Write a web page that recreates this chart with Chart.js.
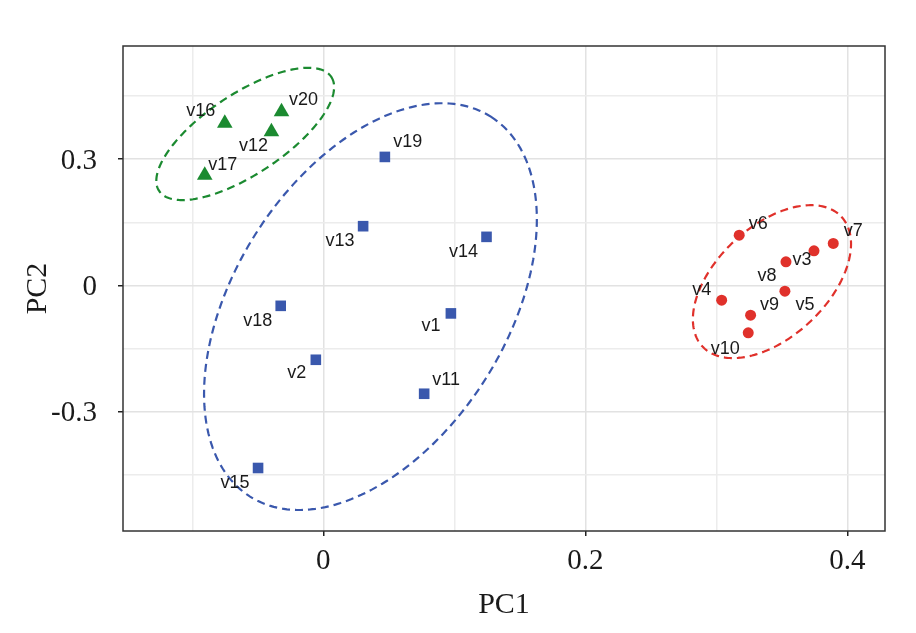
<!DOCTYPE html>
<html>
<head>
<meta charset="utf-8">
<script src="https://cdn.jsdelivr.net/npm/chart.js@4.4.1/dist/chart.umd.min.js"></script>
<style>
  html, body { margin: 0; padding: 0; background: #fff; }
</style>
</head>
<body>
<canvas id="pcaChart" width="916" height="633"></canvas>
<script>
// group 1 (green triangles)
const greenNames = ["v16", "v20", "v12", "v17"];
const greenPC1 = [-0.0752, -0.0319, -0.0396, -0.0905];
const greenPC2 = [0.3854, 0.4125, 0.3650, 0.2620];

// group 2 (blue squares)
const blueNames = ["v19", "v13", "v14", "v18", "v1", "v2", "v11", "v15"];
const bluePC1 = [0.0470, 0.0304, 0.1246, -0.0325, 0.0974, -0.0057, 0.0770, -0.0498];
const bluePC2 = [0.3053, 0.1408, 0.1155, -0.0483, -0.0663, -0.1764, -0.2571, -0.4334];

// group 3 (red circles)
const redNames = ["v6", "v7", "v3", "v8", "v5", "v4", "v9", "v10"];
const redPC1 = [0.3175, 0.3893, 0.3746, 0.3532, 0.3524, 0.3041, 0.3262, 0.3244];
const redPC2 = [0.1195, 0.0998, 0.0822, 0.0561, -0.0134, -0.0348, -0.0704, -0.1124];

// confidence ellipses: centre, first axis, second axis (data units)
const greenEllipse = [-0.0596, 0.3599, 0.0657, 0.1355, 0.0170, -0.0795];
const blueEllipse = [0.0360, -0.0502, 0.0919, 0.4511, 0.0877, -0.1725];
const redEllipse = [0.3425, 0.0091, 0.0530, 0.1542, 0.0289, -0.0959];

// ticks
const xTicks = [-0.1, 0, 0.1, 0.2, 0.3, 0.4];
const xLabelled = [0, 0.2, 0.4];
const yTicks = [-0.45, -0.3, -0.15, 0, 0.15, 0.3, 0.45];
const yLabelled = [-0.3, 0, 0.3];

const GREEN = "#1b8a30";
const BLUE = "#3a58ad";
const RED = "#e0312b";

// where each text label sits relative to its point (px)
const labelShift = {
  v16: [-24, -12], v20: [22, -12], v12: [-18, 14], v17: [18, -10],
  v19: [23, -15], v13: [-23, 15], v14: [-23, 15], v18: [-23, 15],
  v1: [-20, 13], v2: [-19, 13], v11: [22, -14], v15: [-23, 15],
  v6: [19, -11], v7: [20, -12], v3: [-12, 9], v8: [-19, 14],
  v5: [20, 14], v4: [-20, -10], v9: [19, -10], v10: [-23, 16]
};

const toPoints = (pc1, pc2) => pc1.map((x, i) => ({ x, y: pc2[i] }));
const isIn = (list, v) => list.some((l) => Math.abs(l - v) < 1e-9);

const ellipsePlugin = {
  id: "ellipses",
  afterDatasetsDraw(chart) {
    const { ctx, chartArea, scales } = chart;
    const sets = [
      [greenEllipse, GREEN],
      [blueEllipse, BLUE],
      [redEllipse, RED]
    ];
    ctx.save();
    ctx.beginPath();
    ctx.rect(chartArea.left, chartArea.top, chartArea.right - chartArea.left, chartArea.bottom - chartArea.top);
    ctx.clip();
    ctx.lineWidth = 2.2;
    ctx.setLineDash([8, 5]);
    sets.forEach(([e, color]) => {
      ctx.strokeStyle = color;
      ctx.beginPath();
      for (let k = 0; k <= 200; k++) {
        const t = (k / 200) * Math.PI * 2;
        const px = scales.x.getPixelForValue(e[0] + e[2] * Math.cos(t) + e[4] * Math.sin(t));
        const py = scales.y.getPixelForValue(e[1] + e[3] * Math.cos(t) + e[5] * Math.sin(t));
        if (k === 0) ctx.moveTo(px, py);
        else ctx.lineTo(px, py);
      }
      ctx.closePath();
      ctx.stroke();
    });
    ctx.restore();
  }
};

const labelPlugin = {
  id: "pointNames",
  afterDatasetsDraw(chart) {
    const { ctx } = chart;
    ctx.save();
    ctx.font = "18px 'Liberation Sans', Arial, sans-serif";
    ctx.fillStyle = "#1a1a1a";
    ctx.textAlign = "center";
    ctx.textBaseline = "middle";
    chart.data.datasets.forEach((ds, di) => {
      const meta = chart.getDatasetMeta(di);
      meta.data.forEach((pt, i) => {
        const name = ds.names[i];
        const [dx, dy] = labelShift[name] || [0, 0];
        ctx.fillText(name, pt.x + dx, pt.y + dy);
      });
    });
    ctx.restore();
  }
};

const framePlugin = {
  id: "frame",
  afterDraw(chart) {
    const { ctx, chartArea } = chart;
    ctx.save();
    ctx.strokeStyle = "#333";
    ctx.lineWidth = 1.5;
    ctx.strokeRect(chartArea.left, chartArea.top, chartArea.right - chartArea.left, chartArea.bottom - chartArea.top);
    ctx.restore();
  }
};

const gridColor = (labelled) => (c) => (c.tick && isIn(labelled, c.tick.value) ? "#e2e2e2" : "#ececec");
const tickColor = (labelled) => (c) => (c.tick && isIn(labelled, c.tick.value) ? "#222" : "rgba(0,0,0,0)");

new Chart(document.getElementById("pcaChart"), {
  type: "scatter",
  data: {
    datasets: [
      {
        label: "g1",
        names: greenNames,
        data: toPoints(greenPC1, greenPC2),
        pointStyle: "triangle",
        pointRadius: 9,
        pointBorderWidth: 0,
        backgroundColor: GREEN,
        borderColor: GREEN
      },
      {
        label: "g2",
        names: blueNames,
        data: toPoints(bluePC1, bluePC2),
        pointStyle: "rect",
        pointRadius: 7.5,
        pointBorderWidth: 0,
        backgroundColor: BLUE,
        borderColor: BLUE
      },
      {
        label: "g3",
        names: redNames,
        data: toPoints(redPC1, redPC2),
        pointStyle: "circle",
        pointRadius: 5.5,
        pointBorderWidth: 0,
        backgroundColor: RED,
        borderColor: RED
      }
    ]
  },
  options: {
    responsive: false,
    animation: false,
    layout: { padding: { left: 0, top: 46, right: 31, bottom: 0 } },
    plugins: { legend: { display: false }, tooltip: { enabled: false } },
    scales: {
      x: {
        type: "linear",
        min: -0.1529,
        max: 0.4288,
        afterBuildTicks: (s) => { s.ticks = xTicks.map((value) => ({ value })); },
        afterFit: (s) => { s.height = 102; },
        border: { display: false },
        grid: {
          color: gridColor(xLabelled),
          lineWidth: 1.5,
          tickColor: tickColor(xLabelled),
          tickLength: 5,
          tickWidth: 1.5
        },
        ticks: {
          autoSkip: false,
          maxRotation: 0,
          padding: 8,
          color: "#1a1a1a",
          font: { family: "'Liberation Serif', 'Times New Roman', serif", size: 29 },
          callback: (v) => (isIn(xLabelled, v) ? String(v) : "")
        },
        title: {
          display: true,
          text: "PC1",
          color: "#1a1a1a",
          font: { family: "'Liberation Serif', 'Times New Roman', serif", size: 30 },
          padding: { top: 0, bottom: 10 }
        }
      },
      y: {
        type: "linear",
        min: -0.583,
        max: 0.5687,
        afterBuildTicks: (s) => { s.ticks = yTicks.map((value) => ({ value })); },
        afterFit: (s) => { s.width = 123; },
        border: { display: false },
        grid: {
          color: gridColor(yLabelled),
          lineWidth: 1.5,
          tickColor: tickColor(yLabelled),
          tickLength: 5,
          tickWidth: 1.5
        },
        ticks: {
          autoSkip: false,
          padding: 21,
          labelOffset: 2,
          color: "#1a1a1a",
          font: { family: "'Liberation Serif', 'Times New Roman', serif", size: 29 },
          callback: (v) => (isIn(yLabelled, v) ? String(v) : "")
        },
        title: {
          display: true,
          text: "PC2",
          color: "#1a1a1a",
          font: { family: "'Liberation Serif', 'Times New Roman', serif", size: 30 },
          padding: { top: 20, bottom: 0 }
        }
      }
    }
  },
  plugins: [ellipsePlugin, labelPlugin, framePlugin]
});
</script>
</body>
</html>
